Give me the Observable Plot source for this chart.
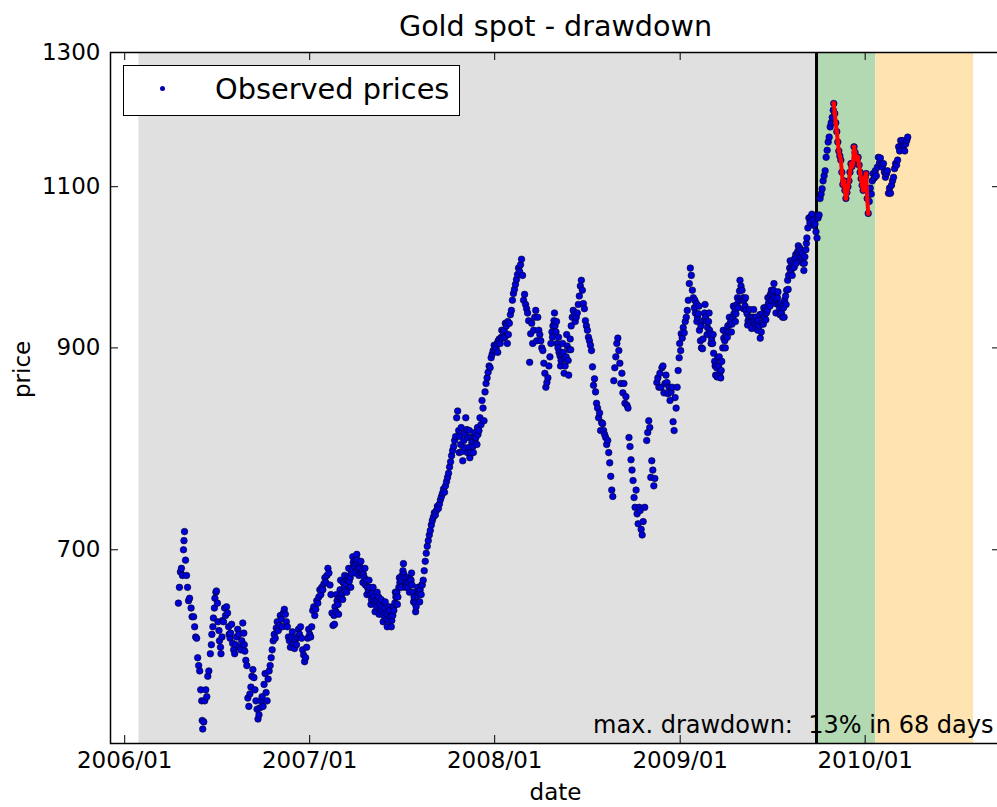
<!DOCTYPE html>
<html><head><meta charset="utf-8">
<script src="https://cdn.jsdelivr.net/npm/d3@7"></script>
<script src="https://cdn.jsdelivr.net/npm/@observablehq/plot@0.6"></script>
<style>
html,body{margin:0;padding:0;background:#fff;overflow:hidden;}
#wrap{position:relative;width:1003px;height:807px;font-family:"DejaVu Sans",sans-serif;}
#legend{position:absolute;left:123px;top:65px;width:337px;height:51px;box-sizing:border-box;border:1.5px solid #000;background:#fff;}
#legend .dot{position:absolute;left:36px;top:20px;width:5px;height:5px;border-radius:50%;background:#0000b0;}
#legend .lab{position:absolute;left:91px;top:9px;font-size:28.8px;line-height:28px;white-space:nowrap;color:#000;}
</style></head>
<body><div id="wrap"></div>
<script>
// observed prices: [days since 2006-01-01, price]
const obs2006 = [[106,655],[108,668],[110,681],[112,684],[114,678],[116,700],[117,708],[118,716],[120,691],[122,678],[124,668],[126,657],[128,659],[131,651],[133,644],[136,644],[138,636],[140,628],[142,627],[144,612],[146,606],[148,602],[150,588],[152,580],[153,566],[154,560],[156,565],[158,580],[160,588],[162,583],[164,598],[166,602],
[169,615],[171,622],[172,630],[174,636],[175,643],[177,651],[178,659],[180,664],[181,665],[183,655],[184,640],[186,633],[187,625],[189,620],[190,615],[192,628],[193,641],[195,640],[197,651],[199,645],[201,652],[203,647],[205,636],[206,630],[208,627],[209,631],[211,638],[213,623],[215,618],[217,615],[219,622],[221,628],[223,634],[225,630],[227,620],[229,618],[231,625],[233,639],[235,631],[236,622],[237,617],[239,610],
[241,606],[243,582],[245,576],[247,585],[249,590],[251,598],[253,603],[255,597],[257,588],[259,580],[261,574],[263,567],[265,570],[267,575],[269,580],[271,583],[273,576],[275,592],[277,600],[279,586],[281,580],[283,596],[285,602],[287,606],
[289,612],[291,618],[293,625],[295,630],[297,627],[299,635],[301,640],[303,633],[305,637],[307,645],[309,642],[311,636],[313,647],[315,650],[317,646],[319,640],[321,636],[323,628],[325,625],[327,620],[329,628],[331,632],[333,623],[335,619],[337,626],[339,622],[341,628],[343,634],[345,630],[347,636],[349,627],[351,618],[353,614],[355,609],[357,612],[359,620],[361,627],[363,634],[365,630]];
const obs2007 = [[367,628],[369,636],[371,649],[373,652],[375,645],[377,650],[379,657],[381,655],[383,660],[385,666],[387,662],[389,668],[391,666],[393,671],[395,676],[397,672],[399,678],[401,684],[403,680],[405,670],[407,662],[409,647],[411,637],[413,645],[415,652],[417,648],[419,657],[421,654],[423,660],[425,666],[427,660],[429,663],[431,672],[433,668],[435,665],[437,671],[439,674],[441,677],[443,673],[445,676],[447,680],[449,684],[451,689],[453,686],[455,691],[457,688],[459,691],[461,684],[463,687],[465,684],[467,680],[469,682],[471,679],[473,676],[475,670],[477,674],[479,668],[481,665],[483,668],[485,662],[487,658],[489,663],[491,660],[493,655],[495,657],[497,652],[499,658],[501,660],[503,654],[505,650],[507,652],[509,648],[511,645],[513,651],[515,647],[517,642],[519,646],[521,641],[523,649],[525,644],[527,641],[529,645],[531,649],[533,655],[535,660],[537,664],[539,660],[541,668],[543,672],[545,674],[547,678],[549,682],[551,679],[553,676],[555,672],[557,670],[559,668],[561,672],[563,675],[565,674],[567,670],[569,664],[571,660],[573,655],[575,652],[577,661],[579,664],[581,663],[583,666],[585,662],[587,670],[589,674],[591,682],[593,690],[595,697],[597,703],[599,708],[601,713],[603,717],[605,722],[607,726],[609,729],[611,733],[613,731],[615,735],[617,739],[619,737],[621,741],[623,745],[625,748],[627,751],[629,755],[631,752],[633,758],[635,762],[637,766],[639,770],[641,776],[643,781],[645,787],[647,792],[649,796],[651,802],[653,806],[655,825],[657,832],[659,812],[661,806],[663,798],[665,791],[667,782],[669,802],[671,809],[673,825],[675,813],[677,805],[679,795],[681,785],[683,790],[685,800],[687,796],[689,806],[691,810],[693,805],[695,798],[697,808],[699,812],[701,825],[703,818],[705,843],[707,835],[709,822],[711,852],[713,861],[715,867],[717,873],[719,880],[721,878],[723,889],[725,893],[727,897],[729,903],
[414,638],[418,662],[422,646],[426,674],[430,658],[434,678],[438,664],[442,684],[446,668],[450,694],[454,680],[458,696],[462,678],[466,690],[470,672],[474,684],[478,662],[482,674],[486,654],[490,668],[494,648],[498,664],[502,646],[506,658],[510,640],[514,656],[518,636],[522,652],[526,636],[530,652],[534,664],[538,654],[542,676],[546,668],[550,688],[554,668],[558,676],[562,664],[566,680],[570,656],[574,648],[578,668],[582,656],[586,670],
[660,790],[664,815],[670,795],[676,790],[680,812],[684,805],[688,790],[692,800],[696,815]];
const obs2008 = [[731,897],[733,900],[735,905],[737,908],[739,910],[741,905],[743,912],[745,911],[747,918],[749,920],[751,928],[753,925],[755,905],[757,915],[759,928],[761,938],[763,943],[765,955],[767,963],[769,968],[771,974],[773,980],[775,986],[777,994],[779,990],[781,998],[783,1005],[785,985],[787,955],[789,962],[791,950],[793,945],[795,940],[797,931],[799,884],[801,916],[803,928],[805,905],[807,920],[809,935],[811,943],[813,908],[815,935],[817,920],[819,915],[821,908],[823,900],[825,897],[827,883],[829,872],[831,857],[833,862],[835,867],[837,880],[839,890],[841,905],[843,918],[845,925],[847,931],[849,925],[851,918],[853,905],[855,900],[857,895],[859,891],[861,886],[863,893],[865,895],[867,872],[869,880],[871,890],[873,902],[875,886],[877,898],[879,910],[881,925],[883,935],[885,943],[887,938],[889,930],[891,935],[893,940],[895,950],[897,960],[899,972],[901,979],[903,967],[905,951],[907,945],[909,931],[911,925],[913,920],[915,912],[917,908],[919,903],[921,897],[923,879],[925,859],[927,866],[929,852],[931,840],[933,835],[935,825],[937,830],[939,812],[941,820],[943,819],[945,812],[947,808],[949,805],[951,798],[953,802],[955,790],[957,780],[959,767],[961,754],[963,748],[965,864],[967,878],[969,890],[971,905],[973,911],[975,897],[977,883],[979,861],[981,872],[983,851],[985,861],[987,840],[989,847],[991,838],[993,835],[995,805],[997,796],[999,783],[1001,773],[1003,763],[1005,747],[1007,738],[1009,754],[1011,732],[1013,723],[1015,738],[1017,735],[1019,718],[1021,713],[1023,725],[1026,738],[1030,802],[1032,810],[1034,822],[1036,815],[1038,766],[1040,782],[1042,773],[1044,758],[1046,765],[1050,862],[1052,867],[1054,857],[1056,872],[1058,857],[1060,878],[1062,880],[1064,851],[1066,861],[1068,870],[1070,862],[1072,850],[1074,857],[1076,843],[1078,852],[1080,857],[1082,821],[1084,812],[1086,846],[1088,835],[1090,857],[1092,875],[1094,889],[1095,905],
[736,895],[744,920],[750,912],[756,930],[844,912],[848,940],[852,930],[856,912],[860,880],[864,905],[868,888],[872,915],[876,870],[880,898]];
const obs2009 = [[1097,897],[1098,916],[1100,911],[1102,923],[1104,917],[1106,930],[1108,935],[1110,943],[1112,955],[1114,975],[1116,994],[1118,985],[1120,967],[1122,958],[1124,946],[1126,940],[1128,951],[1130,935],[1132,939],[1134,920],[1136,908],[1138,900],[1140,899],[1142,931],[1144,940],[1146,935],[1148,930],[1150,923],[1152,930],[1154,920],[1156,916],[1158,910],[1160,905],[1162,894],[1164,885],[1166,870],[1168,878],[1170,889],[1172,880],[1174,872],[1176,867],[1178,885],[1180,900],[1182,911],[1184,908],[1186,915],[1188,920],[1190,925],[1192,918],[1194,927],[1196,930],[1198,927],[1200,935],[1202,939],[1204,945],[1206,939],[1208,950],[1210,946],[1212,955],[1214,979],[1216,972],[1218,967],[1220,958],[1222,955],[1224,948],[1226,943],[1228,939],[1230,931],[1232,935],[1234,928],[1236,935],[1238,931],[1240,935],[1242,931],[1244,927],[1246,922],[1248,930],[1250,931],[1252,925],[1254,911],[1256,918],[1258,939],[1260,927],[1262,935],[1264,946],[1266,940],[1268,943],[1270,951],[1272,958],[1274,962],[1276,967],[1278,963],[1280,967],[1282,958],[1284,951],[1286,955],[1288,958],[1290,950],[1292,946],[1294,951],[1296,940],[1298,935],[1300,946],[1302,955],[1304,960],[1306,967],[1308,979],[1310,985],[1312,994],[1314,990],[1316,998],[1318,994],[1320,1002],[1322,1006],[1324,1011],[1326,1008],[1328,1015],[1330,1012],[1332,1019],[1334,1016],[1336,1003],[1338,1000],[1340,991],[1342,1008],[1344,1017],[1346,1032],[1348,1045],[1350,1058],[1352,1052],[1354,1060],[1356,1063],[1358,1055],[1360,1048],[1362,1050],[1364,1040],[1366,1032],[1368,1058],[1370,1062],[1372,1084],[1374,1090],[1376,1097],[1378,1108],[1380,1115],[1382,1122],[1384,1141],[1386,1151],[1388,1163],[1390,1170],[1392,1185],[1394,1191],[1396,1199],[1398,1210],
[1399,1220],[1401,1205],[1403,1191],[1405,1178],[1407,1163],[1409,1150],[1411,1143],[1413,1137],[1415,1120],[1417,1103],[1419,1108],[1421,1095],[1423,1084],[1425,1092],[1427,1100],[1429,1108],[1431,1120],[1433,1132],[1435,1128],[1437,1132],[1439,1156],[1441,1148],[1443,1141],[1445,1138],[1447,1141],[1449,1130],[1451,1120],[1453,1111],[1455,1102],[1457,1095],[1459,1108],
[1125,955],[1129,930],[1133,948],[1137,925],[1141,910],[1145,950],[1149,915],[1153,940],[1157,905],[1161,915],[1165,880],[1169,868],[1173,890],[1177,875],[1181,920],[1185,900],[1189,912],[1193,935],[1197,918],[1201,948],[1205,930],[1209,958],[1213,966],[1217,955],[1221,945],[1225,958],[1229,926],[1233,944],[1237,922],[1241,944],[1245,935],[1249,920],[1253,938],[1257,928],[1261,946],[1265,932],[1269,958],[1273,948],[1277,955],[1281,975],[1285,940],[1289,965],[1293,938],[1297,948],[1301,935],[1305,950],[1309,968],[1313,1003],[1317,985],[1321,995],[1325,1000],[1329,1022],[1333,1008],[1337,1012],[1341,1000],[1345,1025]];
const obs2010 = [[1461,1113],[1463,1118],[1465,1084],[1467,1064],[1469,1080],[1471,1098],[1473,1090],[1475,1108],[1477,1118],[1479,1112],[1481,1122],[1483,1115],[1485,1127],[1487,1141],[1489,1133],[1491,1140],[1493,1130],[1495,1127],[1497,1132],[1499,1120],[1501,1113],[1503,1118],[1505,1122],[1507,1091],[1509,1098],[1511,1091],[1513,1102],[1515,1108],[1517,1113],[1519,1125],[1521,1132],[1523,1130],[1525,1137],[1527,1156],[1529,1150],[1531,1165],[1533,1160],[1535,1165],[1537,1158],[1539,1150],[1541,1160],[1543,1165],[1545,1170]];

const xDomain = ["2005-12-04", "2010-09-25"];
const yDomain = [550, 1300];
const xTickDates = ["2006-01-01", "2007-01-01", "2008-01-01", "2009-01-01", "2010-01-01"];
const yTicks = [700, 900, 1100, 1300];
const spans = [
  {from: "2006-01-29", to: "2009-09-25", color: "#e0e0e0"},
  {from: "2009-09-27", to: "2010-01-22", color: "#b2d9b2"},
  {from: "2010-01-22", to: "2010-08-03", color: "#ffe4b2"}
];
const markerDate = "2009-09-27";
const drawdownStartDay = 1399, drawdownEndDay = 1467;
const drawdownPct = 13, drawdownDays = 68;
const titleText = "Gold spot - drawdown";
const legendText = "Observed prices";

const toDate = d => new Date(Date.UTC(2006, 0, 1 + d));
const obs = [...obs2006, ...obs2007, ...obs2008, ...obs2009, ...obs2010]
  .map(([d, p]) => ({date: toDate(d), day: d, price: p}))
  .sort((a, b) => a.day - b.day);
const dd = obs.filter(o => o.day >= drawdownStartDay && o.day <= drawdownEndDay);
const spanData = spans.map(s => ({x1: new Date(s.from), x2: new Date(s.to), y1: yDomain[0], y2: yDomain[1], color: s.color}));
const xTicks = xTickDates.map(d => new Date(d));

const W = 1003, H = 807, mL = 110, mR = 3, mT = 52, mB = 64;
const plotW = W - mL - mR, plotH = H - mT - mB, tk = 8;

const chart = Plot.plot({
  width: W, height: H, marginLeft: mL, marginRight: mR, marginTop: mT, marginBottom: mB,
  style: {fontFamily: "DejaVu Sans", fontSize: "23px", color: "#000", background: "transparent", overflow: "visible"},
  x: {type: "utc", domain: xDomain.map(d => new Date(d))},
  y: {type: "log", domain: yDomain},
  marks: [
    Plot.rect(spanData, {x1: "x1", x2: "x2", y1: "y1", y2: "y2", fill: "color"}),
    Plot.text([`max. drawdown:\u00a0 ${drawdownPct}% in ${drawdownDays} days`], {frameAnchor: "bottom-right", lineAnchor: "middle", textAnchor: "end", dx: -7, dy: -18, fontSize: 24, fill: "#000"}),
    Plot.ruleX([new Date(markerDate)], {stroke: "#000", strokeWidth: 3}),
    Plot.dot(obs, {x: "date", y: "price", r: 3.3, fill: "#0000d8", stroke: "#000022", strokeWidth: 0.6}),
    Plot.line(dd, {x: "date", y: "price", stroke: "#ff0000", strokeWidth: 4}),
    Plot.dot(dd, {x: "date", y: "price", r: 2.4, fill: "#ff0000"}),
    Plot.frame({stroke: "#000", strokeWidth: 1.5}),
    Plot.tickX(xTicks, {x: d => d, insetTop: plotH - tk, stroke: "#000", strokeWidth: 1}),
    Plot.tickX(xTicks, {x: d => d, insetBottom: plotH - tk, stroke: "#000", strokeWidth: 1}),
    Plot.tickY(yTicks, {y: d => d, insetRight: plotW - tk, stroke: "#000", strokeWidth: 1}),
    Plot.tickY(yTicks, {y: d => d, insetLeft: plotW - tk, stroke: "#000", strokeWidth: 1}),
    Plot.axisX(xTicks, {tickSize: 0, tickPadding: 8, tickFormat: d3.utcFormat("%Y/%m"), label: null, fontSize: 23}),
    Plot.axisY(yTicks, {tickSize: 0, tickPadding: 10, tickFormat: d => String(d), label: null, fontSize: 23}),
    Plot.text([titleText], {frameAnchor: "top", lineAnchor: "middle", dy: -26, fontSize: 28.6, fill: "#000"}),
    Plot.text(["price"], {frameAnchor: "left", lineAnchor: "middle", dx: -88, rotate: -90, fontSize: 23, fill: "#000"}),
    Plot.text(["date"], {frameAnchor: "bottom", lineAnchor: "middle", dy: 49, fontSize: 23, fill: "#000"})
  ]
});
const wrap = document.getElementById("wrap");
wrap.appendChild(chart);
const legend = document.createElement("div");
legend.id = "legend";
legend.innerHTML = `<span class="dot"></span><span class="lab">${legendText}</span>`;
wrap.appendChild(legend);
</script>
</body></html>
